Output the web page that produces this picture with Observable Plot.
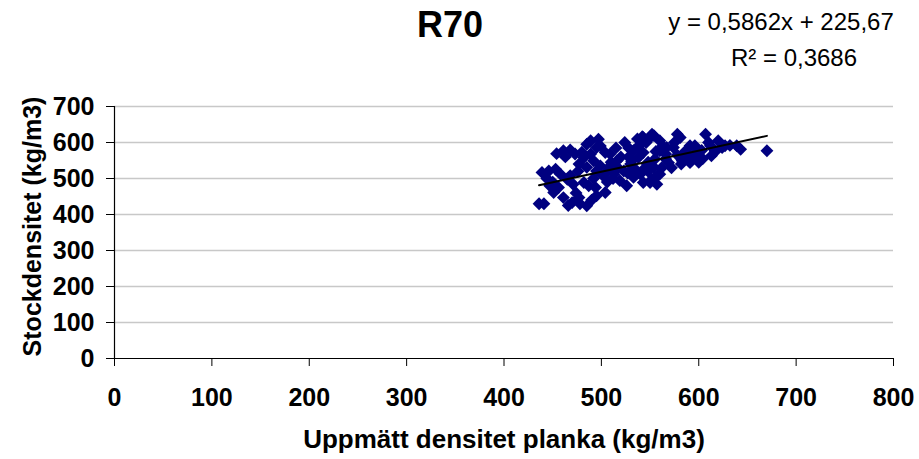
<!DOCTYPE html>
<html>
<head>
<meta charset="utf-8">
<script src="https://cdn.jsdelivr.net/npm/d3@7"></script>
<script src="https://cdn.jsdelivr.net/npm/@observablehq/plot@0.6"></script>
<style>
  html, body { margin: 0; padding: 0; background: #fff; }
  #chart { width: 919px; height: 459px; }
</style>
</head>
<body>
<div id="chart"></div>
<script>
// ---- data ----
const chartTitle = "R70";
const xLabel = "Uppmätt densitet planka (kg/m3)";
const yLabel = "Stockdensitet (kg/m3)";
const xTicks = [0, 100, 200, 300, 400, 500, 600, 700, 800];
const yTicks = [0, 100, 200, 300, 400, 500, 600, 700];
const trendSlope = 0.5862;
const trendIntercept = 225.67;
const trendR2 = 0.3686;

const plankDensity = [
  436, 441, 447, 451, 456, 439, 446, 453, 444, 458, 461, 465, 470, 471, 477, 482, 485, 487, 494, 495, 504, 474, 466, 478, 490,
  454, 461, 468, 473, 463, 480, 489, 497, 482, 489, 492, 495, 504, 509, 499, 485, 477, 485,
  499, 495, 502, 509, 516, 513, 519, 526, 524, 533, 538, 543, 530, 523, 533, 540, 543, 552, 557, 560, 506, 517, 527, 535, 545, 512, 520, 528, 548, 538, 546,
  542, 552, 547, 554, 560, 567, 543, 560, 566, 555, 547, 554, 559, 550, 555, 566, 569, 578, 581, 574, 583, 591, 598, 596, 591, 595, 607, 612, 613, 624, 627, 639, 643, 670,
  586, 603, 578, 588, 604, 617, 632, 600, 572, 562, 610, 575, 620, 582,
  468, 492, 510, 531, 548, 563, 585, 450, 476, 515, 537, 556, 593, 506, 528
];
const logDensity = [
  430, 430, 480, 461, 475, 517, 521, 526, 500, 512, 447, 498, 433, 484, 447, 489, 424, 480, 475, 452, 461, 460, 425, 430, 440,
  569, 577, 579, 568, 560, 573, 605, 609, 558, 568, 549, 586, 572, 568, 590, 595, 540, 531,
  535, 521, 507, 535, 549, 512, 494, 480, 600, 577, 558, 572, 540, 521, 503, 512, 489, 498, 484, 512, 520, 530, 515, 525, 530, 500, 560, 560, 545, 590, 600,
  616, 623, 605, 619, 605, 586, 614, 577, 568, 554, 540, 531, 512, 489, 503, 554, 544, 623, 614, 586, 549, 544, 563, 591, 591, 568, 623, 591, 563, 586, 591, 591, 581, 577,
  575, 578, 565, 560, 555, 575, 592, 545, 530, 530, 600, 600, 605, 540,
  508, 500, 545, 548, 520, 590, 555, 490, 520, 585, 610, 575, 555, 490, 585
];

// ---- build ----
const points = plankDensity.map((x, i) => ({x, y: logDensity[i]}));
const xExt = d3.extent(plankDensity);
const trend = xExt.map(x => ({x, y: trendSlope * x + trendIntercept}));
const fmt = v => String(v).replace(".", ",");
const eqText = `y = ${fmt(trendSlope)}x + ${fmt(trendIntercept)}`;
const r2Text = `R² = ${fmt(trendR2)}`;

const font = "'Liberation Sans', Arial, Helvetica, sans-serif";

const chart = Plot.plot({
  width: 919,
  height: 459,
  marginLeft: 114,
  marginRight: 26,
  marginTop: 106,
  marginBottom: 101,
  style: { fontFamily: font, fontSize: "25px", fontWeight: "bold", color: "#000", background: "#fff", overflow: "visible" },
  x: { domain: [0, 800], ticks: xTicks, label: null },
  y: { domain: [0, 700], ticks: yTicks, label: null },
  marks: [
    Plot.gridY(yTicks.filter(d => d > 0), { stroke: "#c8c8c8", strokeOpacity: 1, strokeWidth: 1.5 }),
    Plot.axisX({ ticks: xTicks, tickSize: 8, tickPadding: 22, tickFormat: d => String(d), fontSize: 25, fontWeight: "bold" }),
    Plot.axisY({ ticks: yTicks, tickSize: 8, tickPadding: 12, tickFormat: d => String(d), fontSize: 25, fontWeight: "bold" }),
    Plot.ruleX([0], { stroke: "#000", strokeWidth: 1.2 }),
    Plot.ruleY([0], { stroke: "#000", strokeWidth: 1.2 }),
    Plot.dot(points, { x: "x", y: "y", symbol: "diamond2", r: 5.8, fill: "#000080", stroke: "none" }),
    Plot.line(trend, { x: "x", y: "y", stroke: "#000", strokeWidth: 2 }),
    Plot.text([xLabel], { frameAnchor: "bottom", dy: 89, fontSize: 26, fontWeight: "bold" }),
    Plot.text([yLabel], { frameAnchor: "left", textAnchor: "middle", dx: -82, dy: -6, rotate: -90, fontSize: 25, fontWeight: "bold" }),
    Plot.text([chartTitle], { frameAnchor: "top", textAnchor: "middle", lineAnchor: "middle", dx: -54, dy: -81, fontSize: 36, fontWeight: "bold" }),
    Plot.text([eqText], { frameAnchor: "top", textAnchor: "middle", lineAnchor: "middle", dx: 277, dy: -84, fontSize: 24, fontWeight: "normal" }),
    Plot.text([r2Text], { frameAnchor: "top", textAnchor: "middle", lineAnchor: "middle", dx: 290, dy: -48, fontSize: 24, fontWeight: "normal" })
  ]
});
document.getElementById("chart").appendChild(chart);
</script>
</body>
</html>
